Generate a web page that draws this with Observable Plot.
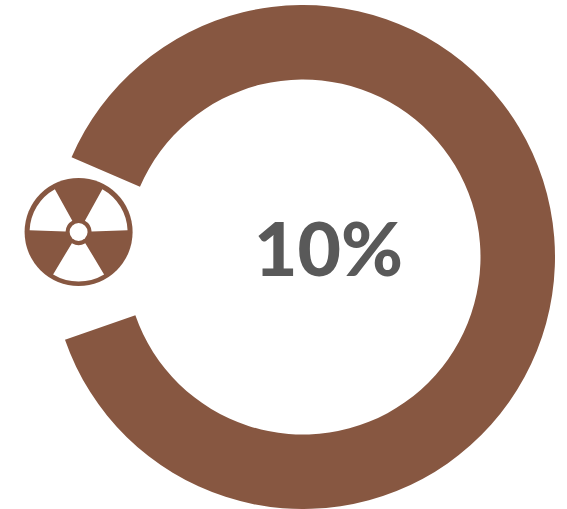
<!DOCTYPE html>
<html>
<head>
<meta charset="utf-8">
<script src="https://cdn.jsdelivr.net/npm/d3@7"></script>
<script src="https://cdn.jsdelivr.net/npm/@observablehq/plot@0.6"></script>
<style>html,body{margin:0;padding:0;background:#fff}svg{display:block}</style>
</head>
<body>
<div id="chart"></div>
<script>
const segmentLabels = ["rest", "gap"];
const segmentValues = [88.2, 11.8];
const centreLabel = ["10%"];
const BROWN = "#875741";
const WIDTH = 567, HEIGHT = 509;

const pie = d3.pie().sort(null).value(d => d.value)
  .startAngle(293.3 * Math.PI / 180).endAngle((293.3 + 360) * Math.PI / 180);
const segments = pie(segmentLabels.map((label, i) => ({label, value: segmentValues[i]})));

const rad = d => d * Math.PI / 180;
const ringArcs = segments.filter(s => s.data.label === "rest").map(s => ({
  cx: 303, cy: 257, inner: 177.5, outer: 252, start: s.startAngle, end: s.endAngle, fill: BROWN
}));
const ic = {cx: 78.6, cy: 232};
const iconArcs = [
  {inner: 0, outer: 54, start: 0, end: 2 * Math.PI, fill: BROWN},
  {inner: 13, outer: 49, start: rad(29), end: rad(88), fill: "#fff"},
  {inner: 13, outer: 49.5, start: rad(149), end: rad(211), fill: "#fff"},
  {inner: 13, outer: 49, start: rad(272), end: rad(331), fill: "#fff"},
  {inner: 0, outer: 9, start: 0, end: 2 * Math.PI, fill: "#fff"}
].map(a => ({...ic, ...a}));

function arcMark(rows) {
  return Plot.dot(rows, {
    x: "cx", y: "cy",
    render(index, scales, values) {
      const g = d3.create("svg:g");
      const arc = d3.arc();
      for (const i of index) {
        const r = rows[i];
        g.append("path")
          .attr("transform", `translate(${values.x[i]},${values.y[i]})`)
          .attr("fill", r.fill)
          .attr("d", arc({innerRadius: r.inner, outerRadius: r.outer, startAngle: r.start, endAngle: r.end}));
      }
      return g.node();
    }
  });
}

const chart = Plot.plot({
  width: WIDTH, height: HEIGHT,
  margin: 0,
  x: {domain: [0, WIDTH], range: [0, WIDTH], axis: null},
  y: {domain: [0, HEIGHT], range: [0, HEIGHT], axis: null},
  marks: [
    arcMark(ringArcs),
    arcMark(iconArcs),
    Plot.text(centreLabel, {
      x: () => 328, y: () => 251.5, text: d => d,
      fontSize: 75, fontWeight: 900, fontFamily: "Lato", fill: "#595959"
    })
  ]
});
document.getElementById("chart").append(chart);
</script>
</body>
</html>
